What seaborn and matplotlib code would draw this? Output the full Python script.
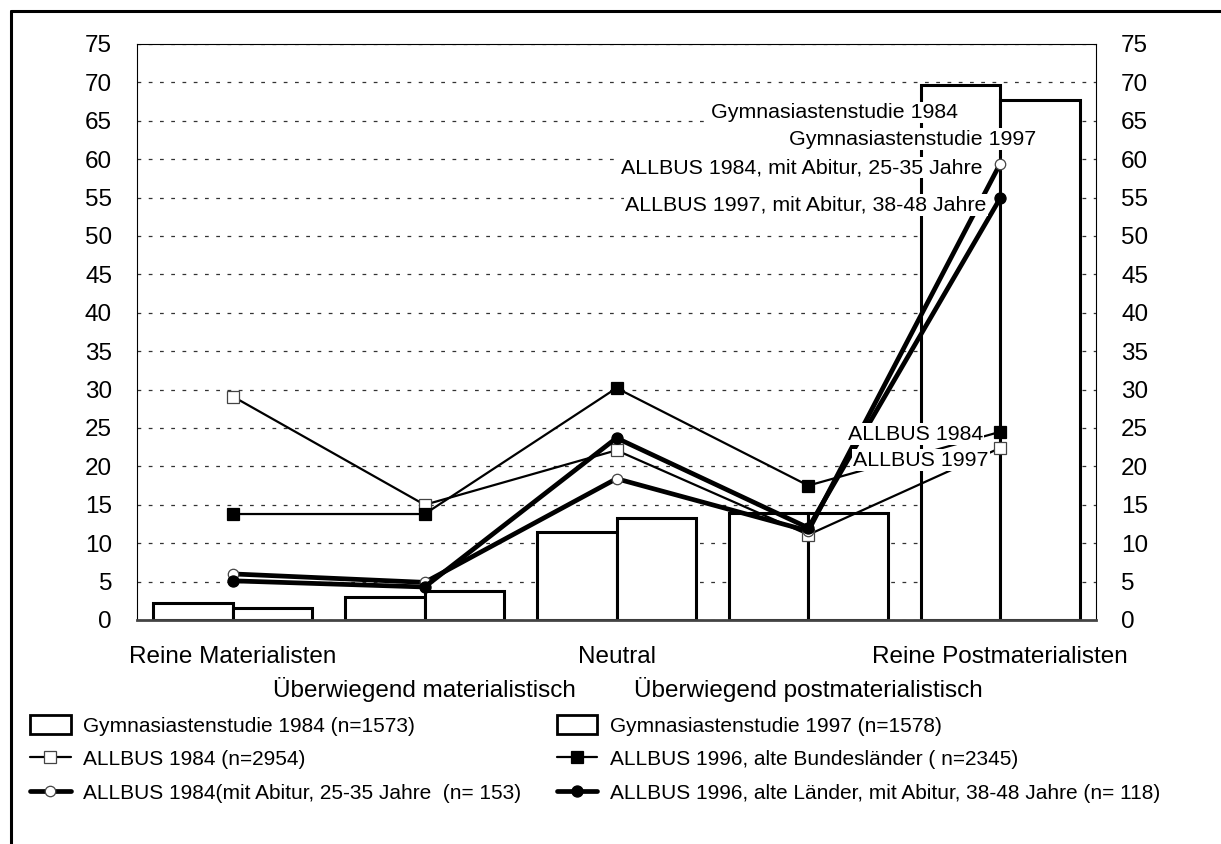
import numpy as np
import pandas as pd
import matplotlib.pyplot as plt
import seaborn as sns
from matplotlib.lines import Line2D
from matplotlib.patches import Patch

categories = ['Reine Materialisten', 'Überwiegend materialistisch', 'Neutral',
              'Überwiegend postmaterialistisch', 'Reine Postmaterialisten']

gym_1984 = [2.2, 3.0, 11.5, 13.9, 69.7]
gym_1997 = [1.6, 3.8, 13.3, 13.9, 67.7]
allbus_1984 = [29.1, 15.0, 22.1, 11.1, 22.4]
allbus_1996 = [13.8, 13.8, 30.2, 17.5, 24.5]
allbus_1984_abi = [6.0, 4.9, 18.4, 11.6, 59.4]
allbus_1996_abi = [5.1, 4.3, 23.7, 12.0, 54.9]

bar_labels = ['Gymnasiastenstudie 1984 (n=1573)', 'Gymnasiastenstudie 1997 (n=1578)']
line_labels = ['ALLBUS 1984 (n=2954)',
               'ALLBUS 1996, alte Bundesländer ( n=2345)',
               'ALLBUS 1984(mit Abitur, 25-35 Jahre  (n= 153)',
               'ALLBUS 1996, alte Länder, mit Abitur, 38-48 Jahre (n= 118)']

sns.set_theme(style='white')
plt.rcParams['font.family'] = ['Liberation Sans', 'DejaVu Sans']
plt.rcParams.update({'text.color': 'black', 'xtick.color': 'black',
                     'ytick.color': 'black', 'axes.labelcolor': 'black'})

W, H = 1221, 844
fig = plt.figure(figsize=(W / 100, H / 100), dpi=100)
ax = fig.add_axes([137 / W, 1 - 620 / H, (1096 - 137) / W, (620 - 44) / H])

bars = pd.DataFrame({
    'kategorie': categories * 2,
    'studie': [bar_labels[0]] * 5 + [bar_labels[1]] * 5,
    'wert': gym_1984 + gym_1997,
})
sns.barplot(data=bars, x='kategorie', y='wert', hue='studie', order=categories,
            hue_order=bar_labels, palette=['white', 'white'], saturation=1,
            edgecolor='black', linewidth=2.2, width=0.83, legend=False,
            zorder=2, ax=ax)

pos = np.arange(len(categories))
styles = [
    (allbus_1984, dict(lw=1.6, marker='s', ms=8.5, mfc='white', mec='#444444', mew=0.9)),
    (allbus_1996, dict(lw=1.6, marker='s', ms=8.5, mfc='black', mec='black', mew=0.9)),
    (allbus_1984_abi, dict(lw=3.4, marker='o', ms=7.5, mfc='white', mec='#444444', mew=0.9)),
    (allbus_1996_abi, dict(lw=3.4, marker='o', ms=8, mfc='black', mec='black', mew=0.9)),
]
for vals, kw in styles:
    sns.lineplot(x=pos, y=vals, color='black', legend=False, zorder=3, ax=ax, **kw)

# Beschriftungen im Diagramm
notes = [
    ('Gymnasiastenstudie 1984', 3.78, 66.1),
    ('Gymnasiastenstudie 1997', 4.19, 62.6),
    ('ALLBUS 1984, mit Abitur, 25-35 Jahre', 3.91, 58.9),
    ('ALLBUS 1997, mit Abitur, 38-48 Jahre', 3.93, 54.0),
    ('ALLBUS 1984', 3.91, 24.2),
    ('ALLBUS 1997', 3.94, 20.8),
]
for txt, x, y in notes:
    ax.text(x, y, txt, ha='right', va='center', fontsize=15.4, zorder=5,
            bbox=dict(facecolor='white', edgecolor='none', pad=1))

ax.set_xlim(-0.5, 4.5)
ax.set_ylim(0, 75)
ax.set_yticks(np.arange(0, 76, 5))
ax.set_xticks(pos)
ax.set_xticklabels(categories)
ax.set_xlabel('')
ax.set_ylabel('')
ax.tick_params(axis='y', length=0, labelsize=17.5, labelright=True, pad=18)
ax.tick_params(axis='x', length=0, labelsize=17.5)
for i, t in enumerate(ax.xaxis.get_major_ticks()):
    t.set_pad(19 if i % 2 == 0 else 40.7)

ax.set_axisbelow(True)
ax.yaxis.grid(True, color='#333333', lw=0.9, linestyle=(0, (3, 6)))
ax.xaxis.grid(False)
for side in ['left', 'top', 'right']:
    ax.spines[side].set_color('black')
    ax.spines[side].set_linewidth(0.8)
ax.spines['bottom'].set_color('#444444')
ax.spines['bottom'].set_linewidth(2)

handles = [
    Patch(facecolor='white', edgecolor='black', lw=2),
    Line2D([], [], color='black', **styles[0][1]),
    Line2D([], [], color='black', **styles[2][1]),
    Patch(facecolor='white', edgecolor='black', lw=2),
    Line2D([], [], color='black', **styles[1][1]),
    Line2D([], [], color='black', **styles[3][1]),
]
labels = [bar_labels[0], line_labels[0], line_labels[2],
          bar_labels[1], line_labels[1], line_labels[3]]
fig.legend(handles, labels, loc='upper left', bbox_to_anchor=(30 / W, 1 - 715 / H),
           ncol=2, frameon=False, fontsize=15, borderpad=0, borderaxespad=0,
           handlelength=1.95, handleheight=1.05, handletextpad=0.6,
           labelspacing=0.62, columnspacing=1.7)

# Rahmen links und oben
fig.add_artist(Line2D([10.5 / W, 10.5 / W], [0, 1 - 11 / H], color='black', lw=2.2,
                      transform=fig.transFigure))
fig.add_artist(Line2D([10.5 / W, 1], [1 - 11 / H, 1 - 11 / H], color='black', lw=2.2,
                      transform=fig.transFigure))

fig.savefig('out.png', dpi=100)
plt.close(fig)
